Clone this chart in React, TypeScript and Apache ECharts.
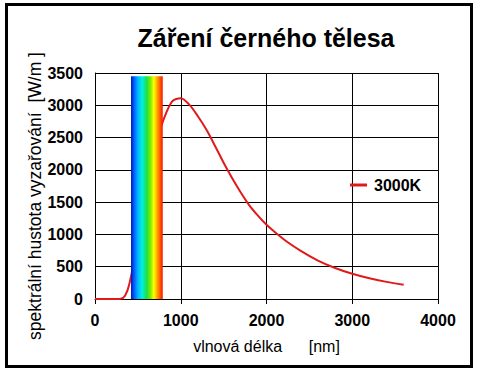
import React, { useEffect, useRef } from "react";
import * as echarts from "echarts";

const titleText = "Záření černého tělesa";
const seriesName = "3000K";
const xAxisName = "vlnová délka      [nm]";
const yAxisName = "spektrální hustota vyzařování  [W/m ]";

const wavelengths = [0, 100, 200, 300, 350, 400, 500, 600, 700, 800, 900, 1000, 1100, 1200, 1300, 1400, 1500, 1600, 1700, 1800, 1900, 2000, 2200, 2400, 2600, 2800, 3000, 3200, 3400, 3600];
const radiance = [0, 0, 0, 5, 50, 230, 900, 1700, 2350, 2780, 3060, 3110, 3010, 2830, 2620, 2370, 2110, 1870, 1650, 1450, 1290, 1150, 925, 745, 595, 480, 390, 320, 265, 220];

// visible spectrum band [start nm, end nm, top value]
const visibleBand = [[420, 790, 3450]];

const xTicks = { min: 0, max: 4000, interval: 1000 };
const yTicks = { min: 0, max: 3500, interval: 500 };

const FONT = "Liberation Sans, Arial, sans-serif";

export default function App() {
  const ref = useRef<HTMLDivElement>(null);
  useEffect(() => {
    if (!ref.current) return;
    const chart = echarts.init(ref.current, undefined, { renderer: "svg" });
    const lineData = wavelengths.map((w, i) => [w, radiance[i]]);
    chart.setOption({
      animation: false,
      backgroundColor: "#ffffff",
      title: {
        text: titleText,
        left: 266,
        top: 25,
        padding: 0,
        textAlign: "center",
        textStyle: { fontFamily: FONT, fontWeight: "bold", fontSize: 25, color: "#000" },
      },
      legend: {
        left: 350,
        top: 177,
        padding: 0,
        icon: "rect",
        itemWidth: 17,
        itemHeight: 3,
        data: [seriesName],
        textStyle: { fontFamily: FONT, fontWeight: "bold", fontSize: 16, color: "#000", padding: [0, 0, 0, 2] },
      },
      grid: { left: 95, right: 47, top: 73, bottom: 78, containLabel: false, outerBoundsMode: "none" },
      xAxis: {
        type: "value",
        min: xTicks.min,
        max: xTicks.max,
        interval: xTicks.interval,
        name: xAxisName,
        nameLocation: "middle",
        nameGap: 39,
        nameMoveOverlap: false,
        nameTextStyle: { fontFamily: FONT, fontSize: 16, color: "#000" },
        axisLine: { show: true, lineStyle: { color: "#000", width: 1 } },
        axisTick: { show: true, length: 5, lineStyle: { color: "#000" } },
        axisLabel: { fontFamily: FONT, fontWeight: "bold", fontSize: 16, color: "#000", margin: 13, formatter: (v: number) => String(v) },
        splitLine: { show: true, lineStyle: { color: "#000", width: 1 } },
      },
      yAxis: {
        type: "value",
        min: yTicks.min,
        max: yTicks.max,
        interval: yTicks.interval,
        axisLine: { show: true, lineStyle: { color: "#000", width: 1 } },
        axisTick: { show: false },
        axisLabel: { fontFamily: FONT, fontWeight: "bold", fontSize: 16, color: "#000", margin: 12, formatter: (v: number) => String(v) },
        splitLine: { show: true, lineStyle: { color: "#000", width: 1 } },
      },
      series: [
        {
          name: seriesName,
          type: "line",
          data: lineData,
          showSymbol: false,
          symbol: "none",
          smooth: 0.3,
          z: 2,
          lineStyle: { color: "#e01a1a", width: 2 },
          itemStyle: { color: "#e01a1a" },
        },
        {
          name: "visible",
          type: "custom",
          z: 5,
          data: visibleBand,
          renderItem: (params: any, api: any) => {
            const p0 = api.coord([api.value(0), api.value(2)]);
            const p1 = api.coord([api.value(1), 0]);
            return {
              type: "rect",
              shape: { x: p0[0], y: p0[1], width: p1[0] - p0[0], height: p1[1] - p0[1] },
              style: {
                fill: new echarts.graphic.LinearGradient(0, 0, 1, 0, [
                  { offset: 0, color: "#0018b0" },
                  { offset: 0.08, color: "#0050ff" },
                  { offset: 0.22, color: "#00b8ff" },
                  { offset: 0.35, color: "#00f0e0" },
                  { offset: 0.5, color: "#20e040" },
                  { offset: 0.62, color: "#80f000" },
                  { offset: 0.72, color: "#ffff00" },
                  { offset: 0.85, color: "#ff9000" },
                  { offset: 1, color: "#ff1000" },
                ]),
              },
            };
          },
        },
      ],
      graphic: [
        {
          type: "text",
          x: 35,
          y: 196,
          rotation: Math.PI / 2,
          style: {
            text: yAxisName,
            fontFamily: FONT,
            fontSize: 17.5,
            fill: "#000",
            align: "center",
            verticalAlign: "middle",
          },
        },
        {
          type: "rect",
          shape: { x: 6.5, y: 4.5, width: 465, height: 362 },
          style: { fill: "none", stroke: "#000", lineWidth: 3 },
          z: 100,
          silent: true,
        },
      ],
    });
    return () => chart.dispose();
  }, []);
  return (
    <div
      ref={ref}
      style={{ position: "fixed", left: 0, top: 0, width: 485, height: 377 }}
    />
  );
}
